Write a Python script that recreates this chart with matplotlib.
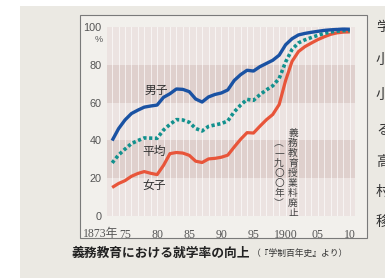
import matplotlib
matplotlib.use("Agg")
import matplotlib.pyplot as plt
from matplotlib.patches import Rectangle

plt.rcParams['font.family'] = ['Liberation Sans', 'Noto Sans CJK JP']

years = list(range(1873, 1911))
male = [39.9, 46.2, 50.8, 54.2, 56.0, 57.6, 58.2, 58.7, 62.8, 64.7,
        67.2, 67.0, 65.8, 61.9, 60.3, 63.0, 64.3, 65.1, 66.7, 71.7,
        74.8, 77.1, 76.7, 79.0, 80.7, 82.4, 85.1, 90.6, 93.8, 95.8,
        96.6, 97.2, 97.7, 98.2, 98.5, 98.7, 98.9, 98.8]
female = [15.1, 17.2, 18.7, 21.0, 22.5, 23.5, 22.6, 21.9, 26.8, 33.0,
          33.6, 33.3, 32.1, 29.0, 28.3, 30.2, 30.5, 31.1, 32.2, 36.5,
          40.6, 44.1, 43.9, 47.5, 50.9, 53.7, 59.0, 71.7, 81.8, 87.0,
          89.6, 91.5, 93.3, 94.8, 96.1, 96.9, 97.3, 97.4]
average = [28.1, 32.3, 35.4, 38.3, 39.9, 41.3, 41.2, 41.1, 45.5, 48.5,
           51.0, 50.8, 49.6, 46.3, 45.0, 47.4, 48.2, 48.9, 50.3, 55.1,
           58.7, 61.7, 61.2, 64.2, 66.7, 68.9, 72.8, 81.5, 88.1, 91.6,
           93.2, 94.4, 95.6, 96.6, 97.4, 97.8, 98.1, 98.1]
xticks = [1875, 1880, 1885, 1890, 1895, 1900, 1905, 1910]
xticklabels = ['75', '80', '85', '90', '95', '1900', '05', '10']
yticks = [0, 20, 40, 60, 80, 100]

W, H = 389, 278
fig = plt.figure(figsize=(W / 100, H / 100), dpi=100)
fig.patch.set_facecolor('white')

def fx(x):
    return x / W

def fy(y):
    return 1 - y / H

# page background (photo of book page)
fig.patches.append(Rectangle((fx(20), 0), fx(385) - fx(20), fy(6), transform=fig.transFigure,
                             facecolor='#ebe9e3', edgecolor='none', zorder=-2))
# frame box
fig.patches.append(Rectangle((fx(80), fy(238)), fx(367) - fx(80), fy(15) - fy(238),
                             transform=fig.transFigure, facecolor='#f2f0ec',
                             edgecolor='#7a7a7a', linewidth=0.8, zorder=-1))

ax = fig.add_axes([fx(107), fy(216), fx(355) - fx(107), fy(27) - fy(216)])
ax.set_zorder(1)
ax.set_xlim(1872.2, 1910.8)
ax.set_ylim(0, 100)
ax.set_facecolor('none')
for s in ax.spines.values():
    s.set_visible(False)

band_colors = ['#ece3e1', '#dfd0cd']
for i in range(5):
    ax.axhspan(i * 20, (i + 1) * 20, color=band_colors[i % 2], zorder=0, lw=0)
for yr in range(1873, 1911):
    ax.axvline(yr, color='white', lw=0.6, alpha=0.75, zorder=0.5)

ax.plot(years, female, color='#e8553a', lw=2.3, solid_capstyle='butt', zorder=3)
ax.plot(years, average, color='#13918e', lw=2.6, linestyle=(0, (0.9, 0.7)),
        dash_capstyle='butt', zorder=3)
ax.plot(years, male, color='#1a52a3', lw=2.4, solid_capstyle='butt', zorder=4)

tick_col = '#555555'
ax.set_xticks(xticks)
ax.set_xticklabels(xticklabels, family=['Liberation Serif', 'Noto Sans CJK JP'])
ax.set_yticks(yticks)
ax.set_yticklabels([str(v) for v in yticks])
ax.tick_params(axis='x', length=0, labelsize=8.5, colors=tick_col, pad=9)
ax.tick_params(axis='y', length=0, labelsize=7.8, colors=tick_col, pad=4)
ax.text(-0.035, 0.96, '%', transform=ax.transAxes, ha='center', va='top',
        fontsize=6.5, color=tick_col)
ax.text(1873.9, -6.4, '1873年', ha='right', va='top', fontsize=8.5,
        color=tick_col, family=['Liberation Serif', 'Noto Sans CJK JP'],
        clip_on=False)

lab_font = ['Noto Sans CJK JP']
ax.text(1879.8, 66.5, '男子', ha='center', va='center', fontsize=8.5,
        color='#333333', family=lab_font)
ax.text(1879.6, 34, '平均', ha='center', va='center', fontsize=8.5,
        color='#333333', family=lab_font)
ax.text(1879.6, 16.2, '女子', ha='center', va='center', fontsize=8.5,
        color='#333333', family=lab_font)

# vertical annotation
note = '義務教育授業料廃止'
for i, ch in enumerate(note):
    fig.text(fx(293), fy(133 + i * 10), ch, ha='center', va='center',
             fontsize=7, color='#444444', family=lab_font, zorder=5)
note2 = '︵一九〇〇年︶'
for i, ch in enumerate(note2):
    fig.text(fx(279), fy(143 + i * 10), ch, ha='center', va='center',
             fontsize=7, color='#444444', family=lab_font, zorder=5)

# caption
fig.text(fx(71), fy(253), '義務教育における就学率の向上', ha='left', va='center',
         fontsize=9.2, fontweight='bold', color='#222222', family=lab_font)
fig.text(fx(252), fy(253), '（『学制百年史』より）', ha='left', va='center',
         fontsize=6.3, color='#333333', family=lab_font)

# next column text (cut off by page edge)
side = ['学', '小', '小', 'る', '高', '村', '移']
side_y = [27, 60, 95, 130, 162, 192, 222]
for ch, yy in zip(side, side_y):
    fig.text(fx(376), fy(yy), ch, ha='left', va='center', fontsize=10,
             color='#333333', family=lab_font)
fig.patches.append(Rectangle((fx(385), 0), 1 - fx(385), 1, transform=fig.transFigure,
                             facecolor='white', edgecolor='none', zorder=10))

fig.savefig('out.png', dpi=100)
